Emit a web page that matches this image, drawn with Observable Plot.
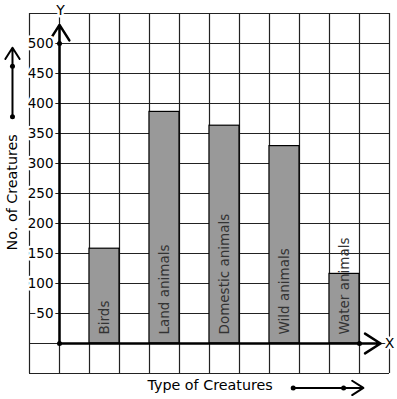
<!DOCTYPE html>
<html>
<head>
<meta charset="utf-8">
<script src="https://cdn.jsdelivr.net/npm/d3@7"></script>
<script src="https://cdn.jsdelivr.net/npm/@observablehq/plot@0.6"></script>
<style>
  html, body { margin: 0; padding: 0; background: #fff; }
</style>
</head>
<body>
<div id="chart"></div>
<script>
// Data
const categories = ["Birds", "Land animals", "Domestic animals", "Wild animals", "Water animals"];
const counts = [158, 386, 363, 329, 116];
const yTicks = [50, 100, 150, 200, 250, 300, 350, 400, 450, 500];
const xTitle = "Type of Creatures";
const yTitle = "No. of Creatures";

// Grid in data units (x: grid cells, y: creature count)
const gridX = d3.range(-1, 12);
const gridY = d3.range(-50, 551, 50);

const bars = categories.map((c, i) => ({category: c, count: counts[i], slot: 2 * i + 1}));

const font = "DejaVu Sans";

const chart = Plot.plot({
  width: 397,
  height: 399,
  marginLeft: 59,
  marginRight: 8,
  marginTop: 43,
  marginBottom: 56,
  x: {type: "linear", domain: [0, 11], axis: null},
  y: {type: "linear", domain: [0, 500], axis: null},
  style: {fontFamily: font, fontSize: "13px", background: "#fff"},
  marks: [
    // grid
    Plot.ruleX(gridX, {x: d => d, y1: -50, y2: 550, stroke: "#222", strokeWidth: 1.2}),
    Plot.ruleY(gridY, {y: d => d, x1: -1, x2: 11, stroke: "#222", strokeWidth: 1.2}),
    // bars
    Plot.rectY(bars, {x1: d => d.slot, x2: d => d.slot + 1, y1: 0, y2: "count", fill: "#999", stroke: "#000", strokeWidth: 1.2}),
    // bar labels
    Plot.text(bars, {x: d => d.slot + 0.5, y: 0, text: "category", rotate: -90, textAnchor: "start", dy: -9, fill: "#333", fontSize: 13.5}),
    // axes with arrows
    Plot.arrow([{x1: 0, y1: 0, x2: 0, y2: 531}], {x1: "x1", y1: "y1", x2: "x2", y2: "y2", stroke: "#000", strokeWidth: 2.5, headLength: 11, headAngle: 65}),
    Plot.arrow([{x1: 0, y1: 0, x2: 10.7, y2: 0}], {x1: "x1", y1: "y1", x2: "x2", y2: "y2", stroke: "#000", strokeWidth: 2.5, headLength: 11, headAngle: 65}),
    Plot.dot([[0, 0], [0, 500], [10, 0]], {x: d => d[0], y: d => d[1], r: 2.5, fill: "#000"}),
    // y tick labels
    Plot.text(yTicks, {x: 0, y: d => d, text: d => String(d), textAnchor: "end", dx: -6, fill: "#000", stroke: "#fff", strokeWidth: 5, fontSize: 13.5}),
    // axis letters
    Plot.text(["Y"], {x: 0, y: 555, text: d => d, dx: 1, fill: "#000", stroke: "#fff", strokeWidth: 5, fontSize: 14}),
    Plot.text(["X"], {x: 11, y: 0, text: d => d, fill: "#000", stroke: "#fff", strokeWidth: 5, fontSize: 14}),
    // titles
    Plot.text([xTitle], {x: 5.02, y: -70, text: d => d, fill: "#000", fontSize: 14.3}),
    Plot.text([yTitle], {x: -1.57, y: 252, text: d => d, rotate: -90, fill: "#000", fontSize: 14.3}),
    // decorative arrows next to titles
    Plot.arrow([{x1: 7.79, y1: -74, x2: 10.13, y2: -74}], {x1: "x1", y1: "y1", x2: "x2", y2: "y2", stroke: "#000", strokeWidth: 2, headLength: 10, headAngle: 65}),
    Plot.dot([[7.79, -74], [9.47, -74]], {x: d => d[0], y: d => d[1], r: 2.5, fill: "#000"}),
    Plot.arrow([{x1: -1.567, y1: 378, x2: -1.567, y2: 493}], {x1: "x1", y1: "y1", x2: "x2", y2: "y2", stroke: "#000", strokeWidth: 2, headLength: 10, headAngle: 65}),
    Plot.dot([[-1.567, 378], [-1.567, 462]], {x: d => d[0], y: d => d[1], r: 2.5, fill: "#000"})
  ]
});
document.getElementById("chart").appendChild(chart);
</script>
</body>
</html>
